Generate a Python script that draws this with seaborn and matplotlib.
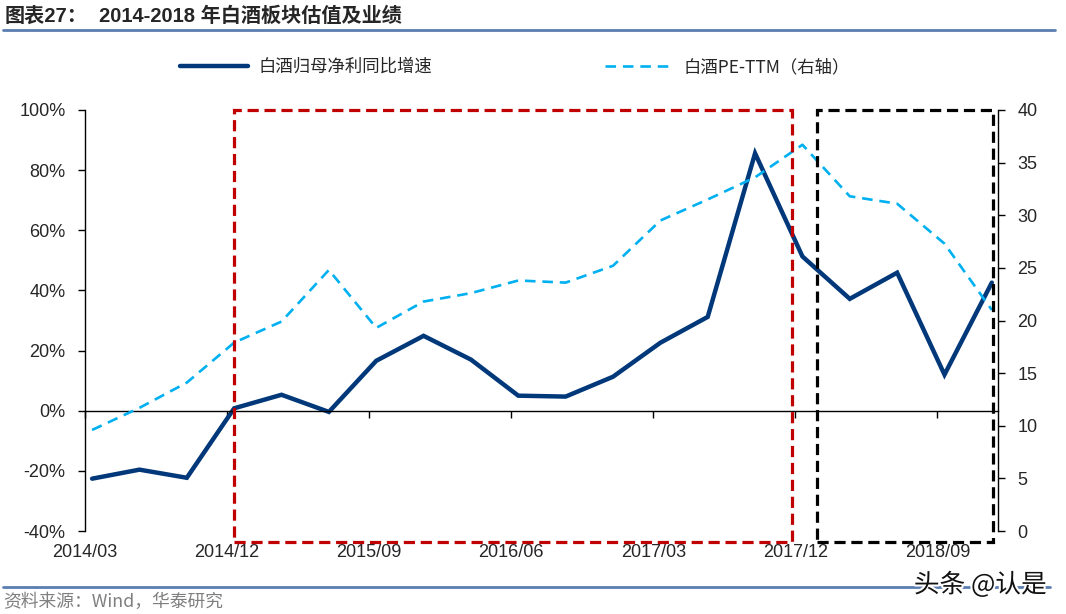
import numpy as np
import pandas as pd
import matplotlib.pyplot as plt
import matplotlib.patheffects as pe
from matplotlib.patches import Rectangle
from matplotlib.lines import Line2D
from matplotlib.ticker import PercentFormatter
import seaborn as sns

quarters = ["2014/03", "2014/06", "2014/09", "2014/12",
            "2015/03", "2015/06", "2015/09", "2015/12",
            "2016/03", "2016/06", "2016/09", "2016/12",
            "2017/03", "2017/06", "2017/09", "2017/12",
            "2018/03", "2018/06", "2018/09", "2018/12"]
# 白酒归母净利同比增速 (%), left axis
profit_growth = [-22.6, -19.6, -22.3, 0.8, 5.3, -0.4, 16.6, 24.9, 17.0, 5.0,
                 4.7, 11.3, 22.6, 31.2, 85.6, 51.3, 37.2, 45.9, 12.0, 42.6]
# 白酒PE-TTM, right axis
pe_ttm = [9.6, 11.7, 14.1, 17.9, 19.9, 24.8, 19.3, 21.8, 22.6, 23.8,
          23.6, 25.2, 29.5, 31.5, 33.6, 36.7, 31.8, 31.1, 27.3, 21.0]
tick_labels = quarters[::3]

df = pd.DataFrame({"idx": np.arange(len(quarters)), "quarter": quarters,
                   "growth": profit_growth, "pe": pe_ttm})

sns.set_style("ticks")
plt.rcParams["font.family"] = ["Liberation Sans", "Noto Sans CJK SC"]
plt.rcParams["axes.unicode_minus"] = False

navy = "#00387a"
sky = "#00b0f0"

fig = plt.figure(figsize=(10.66, 6.14), dpi=100)
ax = fig.add_axes([85 / 1066, 1 - 531 / 614, 913 / 1066, 421 / 614])
ax2 = ax.twinx()

sns.lineplot(data=df, x="idx", y="growth", ax=ax, color=navy, lw=3.2,
             legend=False, solid_joinstyle="miter")
sns.lineplot(data=df, x="idx", y="pe", ax=ax2, color=sky, lw=1.9,
             linestyle=(0, (4, 2.6)), legend=False)

ax.set_xlim(-0.15, 19.13)
ax.set_ylim(-40, 100)
ax2.set_ylim(0, 40)
ax.set_yticks(range(-40, 101, 20))
ax2.set_yticks(range(0, 41, 5))
ax.yaxis.set_major_formatter(PercentFormatter(decimals=0))
for a in (ax, ax2):
    a.set_xlabel("")
    a.set_ylabel("")
    for s in a.spines.values():
        s.set_color("black")
        s.set_linewidth(1)

# x axis sits on the 0% line, labels stay at the bottom
ax.spines["bottom"].set_position(("data", 0))
ax.spines["top"].set_visible(False)
ax.spines["right"].set_visible(False)
ax2.spines["top"].set_visible(False)
ax2.spines["bottom"].set_visible(False)
ax2.spines["left"].set_visible(False)

# ticks in the original sit a little left of the quarter points
xt = df["idx"].values[::3] - 0.15
ax.set_xticks(xt)
ax.tick_params(axis="x", direction="out", length=5, width=1, color="black",
               labelbottom=False)
for pos, lab in zip(xt, tick_labels):
    ax.text(pos, -0.05, lab, transform=ax.get_xaxis_transform(),
            ha="center", va="center", fontsize=13)
ax.tick_params(axis="y", direction="out", length=5, width=1, color="black",
               labelsize=13, pad=9)
ax2.tick_params(axis="y", direction="out", length=5, width=1, color="black",
                labelsize=13, pad=9)

# highlight boxes
box_kw = dict(fill=False, lw=2.3, linestyle=(0, (3.5, 1.8)), clip_on=False,
              zorder=10, transform=ax2.get_xaxis_transform())
ax2.add_patch(Rectangle((3, -0.026), 14.78 - 3, 1.026, edgecolor="#c00000", **box_kw))
ax2.add_patch(Rectangle((15.3, -0.026), 19.02 - 15.3, 1.026, edgecolor="black", **box_kw))

# legend
handles = [Line2D([], [], color=navy, lw=3.2),
           Line2D([], [], color=sky, lw=1.9, linestyle=(0, (4, 2.6)))]
fig.legend(handles, ["白酒归母净利同比增速", "白酒PE-TTM（右轴）"],
           loc="center left", bbox_to_anchor=(180 / 1066, 1 - 67 / 614),
           ncol=2, frameon=False, handlelength=3.9,
           handletextpad=0.6, columnspacing=10.0, borderpad=0, borderaxespad=0,
           prop={"family": ["Noto Sans CJK SC"], "size": 12.5})

# title, rules, source
fig.text(5 / 1066, 1 - 16 / 614, "图表27：", fontsize=14.5, fontweight="bold",
         va="center", ha="left")
fig.text(99 / 1066, 1 - 16 / 614, "2014-2018 年白酒板块估值及业绩", fontsize=14.5,
         fontweight="bold", va="center", ha="left")
rule = "#5b7db1"
fig.add_artist(Line2D([3 / 1066, 1055 / 1066], [1 - 29.5 / 614] * 2, color=rule,
                      lw=2, transform=fig.transFigure))
fig.add_artist(Line2D([3 / 1066, 1050 / 1066], [1 - 587 / 614] * 2, color=rule,
                      lw=2, transform=fig.transFigure))
fig.text(3 / 1066, 1 - 602 / 614, "资料来源：Wind，华泰研究", fontsize=12.8,
         color="#7f7f7f", va="center", ha="left",
         family=["Noto Sans CJK SC", "Liberation Sans"])
fig.text(1047 / 1066, 1 - 585 / 614, "头条 @认是", fontsize=18.5, color="#111111",
         va="center", ha="right", family=["Noto Sans CJK SC"],
         path_effects=[pe.withStroke(linewidth=3, foreground="white")])

fig.savefig("out.png", dpi=100)
